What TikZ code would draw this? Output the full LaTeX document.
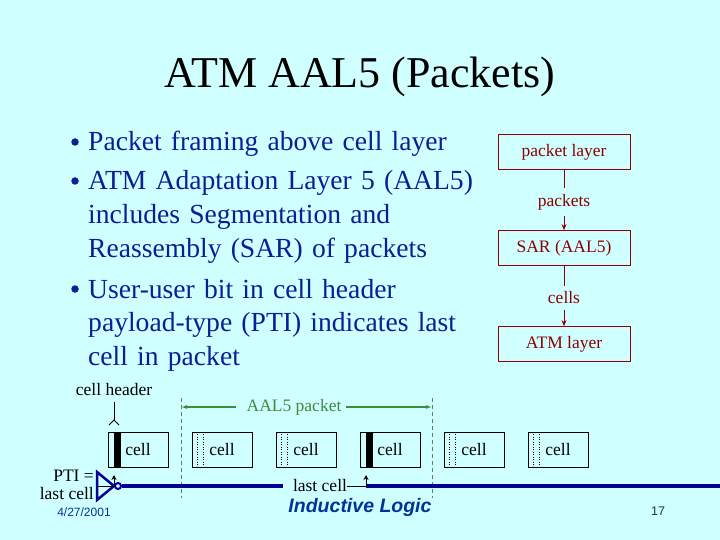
\documentclass[tikz,border=0pt]{standalone}
\usepackage{fontspec}
\setmainfont{Liberation Serif}
\setsansfont{Liberation Sans}
\usetikzlibrary{arrows.meta,positioning}
\definecolor{slidebg}{RGB}{208,255,255}
\definecolor{bulletblue}{RGB}{12,30,150}
\definecolor{darkred}{RGB}{140,0,0}
\definecolor{pktgreen}{RGB}{60,140,60}
\definecolor{dashgreen}{RGB}{95,130,95}
\definecolor{signavy}{RGB}{0,0,150}
\definecolor{footblue}{RGB}{0,51,153}
\definecolor{pagenavy}{RGB}{30,50,90}
\newcommand{\fsz}[2]{\fontsize{#1}{#2}\selectfont}
\tikzset{
  layerbox/.style={draw=darkred,line width=0.8pt,minimum width=132pt,minimum height=35pt,inner sep=0pt,text=darkred,font=\fsz{17.5}{21}},
  flowlbl/.style={inner sep=6pt,text=darkred,font=\fsz{17.5}{21}},
  flowline/.style={draw=darkred,line width=0.8pt},
  flowarr/.style={flowline,-{Stealth[length=6pt,width=5pt]}},
  cellbox/.style={draw=black,line width=0.8pt,minimum width=60pt,minimum height=35pt,inner sep=0pt,font=\fsz{17.5}{21}},
  smalltxt/.style={inner sep=0pt,font=\fsz{17.5}{21}},
  itemtxt/.style={anchor=base west,inner sep=0pt,text width=420pt,align=left,text=bulletblue,font=\fsz{27.6}{33.5}},
  bulletmark/.style={circle,fill=bulletblue,minimum size=7.5pt,inner sep=0pt},
  pktdash/.style={draw=dashgreen,line width=0.8pt,dash pattern=on 4pt off 3pt},
  pktarr/.style={draw=pktgreen,line width=1.2pt,-{Latex[length=6pt,width=4pt]}},
  sigline/.style={draw=signavy,line width=3.5pt},
  ptr/.style={draw=black,line width=1pt,-{Stealth[length=5pt,width=5pt]}}
}
\begin{document}
\begin{tikzpicture}[x=1pt,y=-1pt]
  \fill[slidebg] (0,0) rectangle (720,540);
  \useasboundingbox (0,0) rectangle (720,540);
  % title
  \node[anchor=base,inner sep=0pt,font=\fsz{44}{50}] (title) at (360,88) {ATM AAL5 (Packets)};
  % bullet list
  \node[bulletmark] (b1) at (75,142) {};
  \node[bulletmark] (b2) at (75,181) {};
  \node[bulletmark] (b3) at (75,289) {};
  \node[itemtxt] (item1) at (88,151) {Packet framing above cell layer};
  \node[itemtxt] (item2) at (88,190) {ATM Adaptation Layer 5 (AAL5)\\includes Segmentation and\\Reassembly (SAR) of packets};
  \node[itemtxt] (item3) at (88,298) {User-user bit in cell header\\payload-type (PTI) indicates last\\cell in packet};
  % layer stack
  \node[layerbox] (pktlayer) at (564,152) {packet layer};
  \node[flowlbl] (pkts) at (564,202) {packets};
  \node[layerbox] (sar) at (564,248) {SAR (AAL5)};
  \node[flowlbl] (cellsl) at (564,298) {cells};
  \node[layerbox] (atm) at (564,344) {ATM layer};
  \draw[flowline] (pktlayer) -- (pkts);
  \draw[flowarr] (pkts) -- (sar);
  \draw[flowline] (sar) -- (cellsl);
  \draw[flowarr] (cellsl) -- (atm);
  % cell stream
  \foreach \i in {1,...,6}
    \node[cellbox] (cell\i) at ({138+84*(\i-1)},449.5) {cell};
  \foreach \i in {1,4}
    \fill ([xshift=6.5pt]cell\i.north west) rectangle ([xshift=13pt]cell\i.south west);
  \foreach \i in {2,3,5,6}
    \draw[line width=0.8pt,dash pattern=on 1pt off 1.5pt]
      ([xshift=6pt]cell\i.north west) -- ([xshift=6pt]cell\i.south west)
      ([xshift=12pt]cell\i.north west) -- ([xshift=12pt]cell\i.south west);
  % cell header pointer
  \node[smalltxt] (hdr) at (114,390) {cell header};
  \coordinate (hdrtip) at (114,420);
  \draw[line width=1pt] ([yshift=-6pt]hdr.south) -- (hdrtip);
  \draw[line width=1pt] (109,425) -- (hdrtip) -- (119,425);
  % packet extent
  \coordinate (pktL) at (181,398);
  \coordinate (pktLb) at (181,498);
  \coordinate (pktR) at (432,398);
  \coordinate (pktRb) at (432,498);
  \draw[pktdash] (pktL) -- (pktLb);
  \draw[pktdash] (pktR) -- (pktRb);
  \node[smalltxt,text=pktgreen] (aal) at (294,407) {AAL5 packet};
  \draw[pktarr] ([xshift=-10pt]aal.west) -- (aal.west -| pktL);
  \draw[pktarr] ([xshift=4pt]aal.east) -- (aal.east -| pktR);
  % last-cell logic
  \node[smalltxt,anchor=east] (pti) at (94,476) {PTI =};
  \node[smalltxt,anchor=east] (ptilast) at (94,494) {last cell};
  \coordinate (gatein) at (97,486);
  \coordinate (gateout) at (114,486);
  \draw[draw=signavy,line width=2.5pt,line join=miter] (97,472) -- (gateout) -- (97,500) -- cycle;
  \draw[line width=1pt] (gatein) -- (gateout);
  \node[circle,draw=signavy,line width=2pt,minimum size=6pt,inner sep=0pt] (bubble) at (118,486) {};
  \node[smalltxt] (lastcell) at (320,486) {last cell};
  \coordinate (bar4) at (366,486);
  \coordinate (sigend) at (720,486);
  \draw[sigline] (bubble.east) -- ([xshift=-10pt]lastcell.west);
  \draw[sigline] (bar4) -- (sigend);
  \draw[line width=1pt] (lastcell.east) -- (bar4);
  \coordinate (bar1tip) at (114,475);
  \coordinate (bar4tip) at (366,475);
  \draw[ptr] (gateout) -- (bar1tip);
  \draw[ptr] (bar4) -- (bar4tip);
  % footer
  \node[inner sep=0pt,font=\sffamily\fsz{12}{14},text=footblue] (date) at (84,512) {4/27/2001};
  \node[inner sep=0pt,font=\sffamily\bfseries\itshape\fsz{19.5}{22},text=footblue] (logic) at (360,507) {Inductive Logic};
  \node[inner sep=0pt,font=\sffamily\fsz{12.5}{14},text=pagenavy] (pgno) at (658,511) {17};
\end{tikzpicture}
\end{document}
